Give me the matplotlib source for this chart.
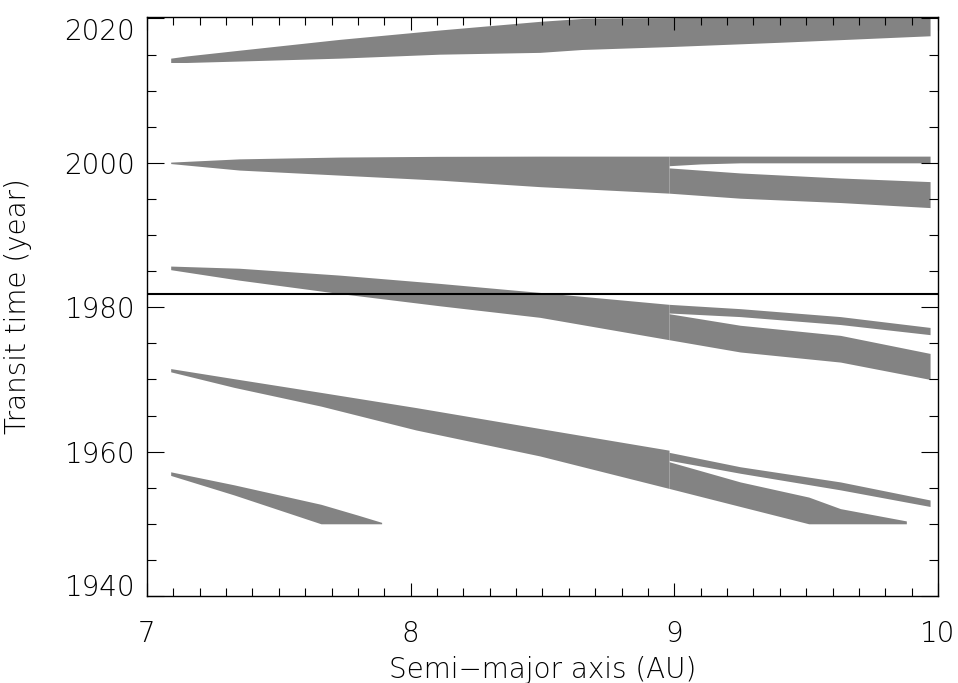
import matplotlib
matplotlib.use("Agg")
import matplotlib.pyplot as plt
from matplotlib.ticker import MultipleLocator

# band A (top, ~2014-2020)
xA = [7.09, 7.15, 7.35, 7.73, 8.11, 8.49, 8.65, 8.98, 9.40, 9.97]
upA = [2014.5, 2014.8, 2015.6, 2017.1, 2018.4, 2019.6, 2020.0, 2020.1, 2020.4, 2020.8]
loA = [2013.9, 2013.9, 2014.1, 2014.5, 2015.05, 2015.3, 2015.7, 2016.1, 2016.7, 2017.6]

# band B (~2000), before and after the split at 8.98
xB = [7.09, 7.35, 7.73, 8.11, 8.49, 8.98]
upB = [2000.1, 2000.55, 2000.8, 2000.9, 2000.93, 2000.93]
loB = [1999.9, 1999.0, 1998.3, 1997.6, 1996.7, 1995.8]
xB1 = [8.98, 9.10, 9.25, 9.60, 9.97]
upB1 = [2000.93, 2000.93, 2000.93, 2000.93, 2000.93]
loB1 = [1999.6, 1999.85, 2000.0, 2000.0, 2000.0]
xB2 = [8.98, 9.25, 9.63, 9.97]
upB2 = [1999.3, 1998.6, 1997.9, 1997.4]
loB2 = [1995.8, 1995.1, 1994.5, 1993.8]

# band C (~1985)
xC = [7.09, 7.35, 7.73, 8.11, 8.49, 8.98]
upC = [1985.7, 1985.4, 1984.45, 1983.3, 1982.05, 1980.4]
loC = [1985.2, 1983.75, 1981.9, 1980.2, 1978.6, 1975.5]
xC1 = [8.98, 9.25, 9.63, 9.97]
upC1 = [1980.4, 1979.8, 1978.7, 1977.2]
loC1 = [1979.2, 1978.7, 1977.6, 1976.2]
xC2 = [8.98, 9.25, 9.63, 9.97]
upC2 = [1979.1, 1977.5, 1976.1, 1973.6]
loC2 = [1975.5, 1973.8, 1972.4, 1970.0]

# band D (~1971)
xD = [7.09, 7.33, 7.66, 8.02, 8.49, 8.98]
upD = [1971.5, 1970.1, 1968.2, 1966.1, 1963.2, 1960.2]
loD = [1971.05, 1968.9, 1966.3, 1963.0, 1959.4, 1954.9]
xD1 = [8.98, 9.25, 9.63, 9.97]
upD1 = [1959.9, 1957.9, 1955.8, 1953.3]
loD1 = [1958.8, 1957.0, 1954.7, 1952.4]
xD2 = [8.98, 9.25, 9.51, 9.63, 9.88]
upD2 = [1958.6, 1955.8, 1953.7, 1952.1, 1950.4]
loD2 = [1954.9, 1952.4, 1950.0, 1950.0, 1950.0]

# band E (~1957)
xE = [7.09, 7.33, 7.66, 7.80, 7.89]
upE = [1957.2, 1955.4, 1952.7, 1951.2, 1950.2]
loE = [1956.7, 1954.0, 1950.0, 1950.0, 1950.0]

now_line = 1981.9
year_ticks = [1940, 1960, 1980, 2000, 2020]

bands = [(xA, upA, loA), (xB, upB, loB), (xB1, upB1, loB1), (xB2, upB2, loB2),
         (xC, upC, loC), (xC1, upC1, loC1), (xC2, upC2, loC2),
         (xD, upD, loD), (xD1, upD1, loD1), (xD2, upD2, loD2),
         (xE, upE, loE)]

plt.rcParams['font.family'] = ['DejaVu Sans']
plt.rcParams['font.weight'] = 'ultralight'
plt.rcParams['axes.labelweight'] = 'ultralight'

fig = plt.figure(figsize=(9.58, 6.83), dpi=100)
ax = fig.add_axes([0.1534, 0.1274, 0.8257, 0.8477])

for x, up, lo in bands:
    ax.fill_between(x, lo, up, color="#838383", linewidth=0)

ax.axhline(now_line, color="black", linewidth=1.5)

ax.set_xlim(7, 10)
ax.set_ylim(1940, 2020.2)
ax.xaxis.set_major_locator(MultipleLocator(1))
ax.xaxis.set_minor_locator(MultipleLocator(0.1))
ax.set_yticks(year_ticks)
ax.yaxis.set_minor_locator(MultipleLocator(5))

ax.tick_params(which="both", direction="in", top=True, right=True, width=0.8,
               labelsize=20, color="black")
ax.tick_params(axis="x", which="major", length=9.5, pad=17)
ax.tick_params(axis="x", which="minor", length=5.5)
ax.tick_params(axis="y", which="major", length=12, pad=8.5)
ax.tick_params(axis="y", which="minor", length=6.5)
for s in ax.spines.values():
    s.set_linewidth(1.0)

ax.set_xlabel("Semi\u2212major axis (AU)", fontsize=20, labelpad=6, fontweight="ultralight")
ax.set_ylabel("Transit time (year)", fontsize=20, labelpad=23, fontweight="ultralight")

ylabels = ax.get_yticklabels()
ylabels[0].set_verticalalignment("baseline")
ylabels[-1].set_verticalalignment("top")

fig.savefig("out.png", dpi=100)
